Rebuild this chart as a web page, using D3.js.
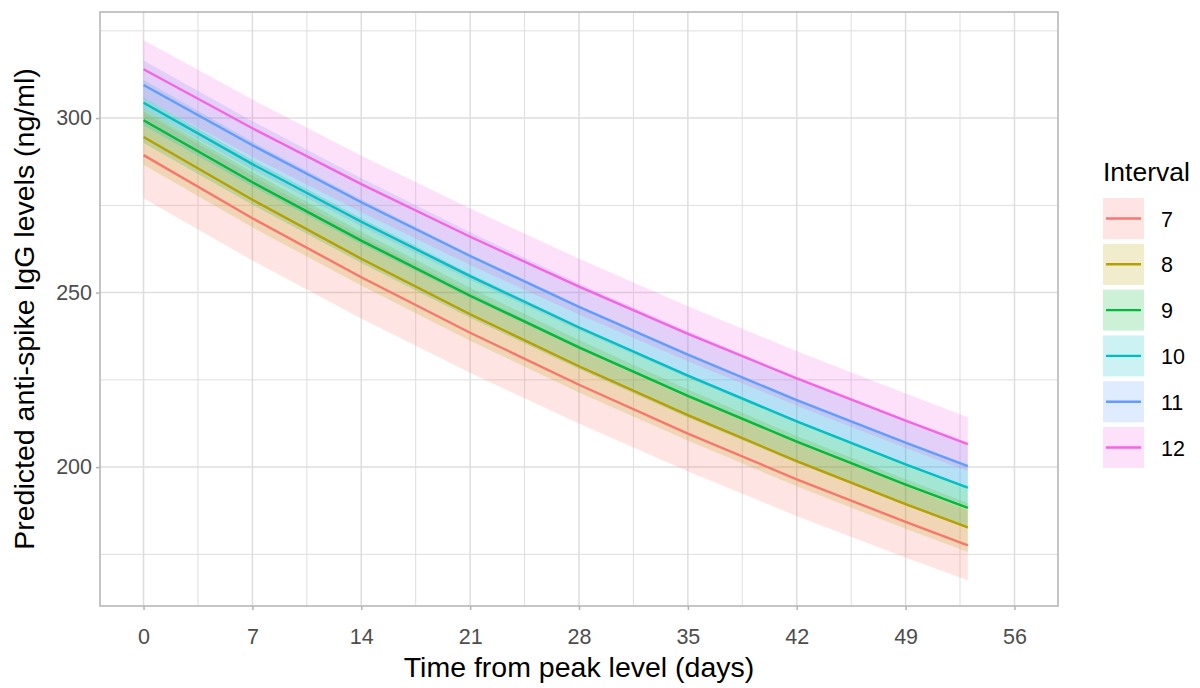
<!DOCTYPE html>
<html>
<head>
<meta charset="utf-8">
<script src="https://cdn.jsdelivr.net/npm/d3@7"></script>
<style>
  body { margin: 0; background: #fff; }
  text { font-family: "Liberation Sans", Arial, sans-serif; }
</style>
</head>
<body>
<svg id="chart" width="1200" height="688"></svg>
<script>
// data
const days = [0, 7, 14, 21, 28, 35, 42, 49, 53];
const intervals = ["7", "8", "9", "10", "11", "12"];
const colors = ["#F8766D", "#B79F00", "#00BA38", "#00BFC4", "#619CFF", "#F564E3"];

const fit7  = [289.4, 271.3, 254.4, 238.5, 223.6, 209.6, 196.5, 184.3, 177.6];
const lo7   = [277.0, 259.2, 242.6, 227.0, 212.5, 198.8, 186.0, 174.1, 167.6];
const hi7   = [301.8, 283.4, 266.2, 250.0, 234.7, 220.4, 207.0, 194.5, 187.6];

const fit8  = [294.6, 276.6, 259.7, 243.8, 228.9, 214.9, 201.7, 189.4, 182.7];
const lo8   = [286.6, 268.7, 252.0, 236.2, 221.4, 207.6, 194.5, 182.3, 175.7];
const hi8   = [302.6, 284.5, 267.4, 251.4, 236.4, 222.2, 208.9, 196.5, 189.7];

const fit9  = [299.4, 281.6, 264.9, 249.1, 234.3, 220.4, 207.3, 195.0, 188.3];
const lo9   = [292.9, 275.2, 258.5, 242.8, 228.1, 214.2, 201.2, 189.0, 182.3];
const hi9   = [305.9, 288.0, 271.3, 255.4, 240.5, 226.6, 213.4, 201.0, 194.3];

const fit10 = [304.4, 286.8, 270.3, 254.7, 240.0, 226.2, 213.1, 200.8, 194.1];
const lo10  = [297.9, 280.4, 263.9, 248.4, 233.8, 220.0, 207.0, 194.8, 188.1];
const hi10  = [310.9, 293.2, 276.7, 261.0, 246.2, 232.4, 219.2, 206.8, 200.1];

const fit11 = [309.5, 292.2, 275.9, 260.5, 245.9, 232.2, 219.2, 207.0, 200.3];
const lo11  = [302.5, 285.3, 269.0, 253.7, 239.2, 225.5, 212.6, 200.5, 193.8];
const hi11  = [316.5, 299.1, 282.8, 267.3, 252.6, 238.9, 225.8, 213.5, 206.8];

const fit12 = [314.0, 297.1, 281.1, 266.0, 251.7, 238.2, 225.4, 213.3, 206.6];
const lo12  = [305.7, 288.9, 273.0, 257.9, 243.7, 230.3, 217.6, 205.5, 198.9];
const hi12  = [322.3, 305.3, 289.2, 274.1, 259.7, 246.1, 233.2, 221.1, 214.3];

const xTicks = [0, 7, 14, 21, 28, 35, 42, 49, 56];
const yTicks = [200, 250, 300];

const fits = [fit7, fit8, fit9, fit10, fit11, fit12];
const los = [lo7, lo8, lo9, lo10, lo11, lo12];
const his = [hi7, hi8, hi9, hi10, hi11, hi12];

const series = intervals.map((name, i) => ({
  name: name,
  color: colors[i],
  pts: days.map((d, j) => ({ day: d, fit: fits[i][j], lo: los[i][j], hi: his[i][j] }))
}));

const margin = { left: 100, top: 12, right: 142, bottom: 82 };
const width = 1200 - margin.left - margin.right;
const height = 688 - margin.top - margin.bottom;

const svg = d3.select("#chart");
const g = svg.append("g").attr("transform", `translate(${margin.left}, ${margin.top})`);

// ggplot style limits 0..56 with 5% expansion
const x = d3.scaleLinear().domain([-2.8, 58.8]).range([0, width]);
const y = d3.scaleLinear().domain([160.2, 330.4]).range([height, 0]);

const gridCol = "#DEDEDE";
// minor grid
const xMinor = xTicks.slice(0, -1).map(t => t + 3.5);
const yMinor = [175, 225, 275, 325];
g.selectAll(".xminor").data(xMinor).enter().append("line")
  .attr("x1", d => x(d)).attr("x2", d => x(d)).attr("y1", 0).attr("y2", height)
  .attr("stroke", gridCol).attr("stroke-width", 1);
g.selectAll(".yminor").data(yMinor).enter().append("line")
  .attr("x1", 0).attr("x2", width).attr("y1", d => y(d)).attr("y2", d => y(d))
  .attr("stroke", gridCol).attr("stroke-width", 1);
// major grid
g.selectAll(".xmajor").data(xTicks).enter().append("line")
  .attr("x1", d => x(d)).attr("x2", d => x(d)).attr("y1", 0).attr("y2", height)
  .attr("stroke", gridCol).attr("stroke-width", 1.5);
g.selectAll(".ymajor").data(yTicks).enter().append("line")
  .attr("x1", 0).attr("x2", width).attr("y1", d => y(d)).attr("y2", d => y(d))
  .attr("stroke", gridCol).attr("stroke-width", 1.5);

// ribbons
const area = d3.area().x(d => x(d.day)).y0(d => y(d.lo)).y1(d => y(d.hi));
g.selectAll(".band").data(series).enter().append("path")
  .attr("d", s => area(s.pts))
  .attr("fill", s => s.color)
  .attr("fill-opacity", 0.2);

// lines
const line = d3.line().x(d => x(d.day)).y(d => y(d.fit));
g.selectAll(".fit").data(series).enter().append("path")
  .attr("d", s => line(s.pts))
  .attr("fill", "none")
  .attr("stroke", s => s.color)
  .attr("stroke-width", 2.4);

// panel border
g.append("rect").attr("x", 0).attr("y", 0).attr("width", width).attr("height", height)
  .attr("fill", "none").attr("stroke", "#B3B3B3").attr("stroke-width", 1.5);

// axes
const xAxis = g.append("g").attr("transform", `translate(0, ${height})`)
  .call(d3.axisBottom(x).tickValues(xTicks).tickSize(4).tickPadding(34));
const yAxis = g.append("g")
  .call(d3.axisLeft(y).tickValues(yTicks).tickSize(4).tickPadding(4));
[xAxis, yAxis].forEach(ax => {
  ax.select(".domain").remove();
  ax.selectAll(".tick line").attr("stroke", "#B3B3B3").attr("stroke-width", 1.5);
  ax.selectAll(".tick text").attr("fill", "#4D4D4D").style("font-size", "21.5px");
});
xAxis.selectAll(".tick text").attr("dy", "0");

// axis titles
svg.append("text")
  .attr("x", margin.left + width / 2).attr("y", 677)
  .attr("text-anchor", "middle").style("font-size", "28.5px").attr("fill", "#000")
  .text("Time from peak level (days)");
svg.append("text")
  .attr("transform", `translate(34, ${margin.top + height / 2}) rotate(-90)`)
  .attr("text-anchor", "middle").style("font-size", "28.5px").attr("fill", "#000")
  .text("Predicted anti-spike IgG levels (ng/ml)");

// legend
const leg = svg.append("g").attr("transform", "translate(1103, 0)");
leg.append("text").attr("x", 0).attr("y", 181)
  .style("font-size", "26.5px").attr("fill", "#000").text("Interval");
const key = leg.selectAll(".key").data(series).enter().append("g")
  .attr("transform", (d, i) => `translate(0, ${198 + i * 45.8})`);
key.append("rect").attr("width", 41).attr("height", 41)
  .attr("fill", d => d.color).attr("fill-opacity", 0.2);
key.append("line").attr("x1", 3).attr("x2", 38).attr("y1", 20.5).attr("y2", 20.5)
  .attr("stroke", d => d.color).attr("stroke-width", 2.4);
key.append("text").attr("x", 58).attr("y", 28.5)
  .style("font-size", "21.5px").attr("fill", "#000").text(d => d.name);
</script>
</body>
</html>
